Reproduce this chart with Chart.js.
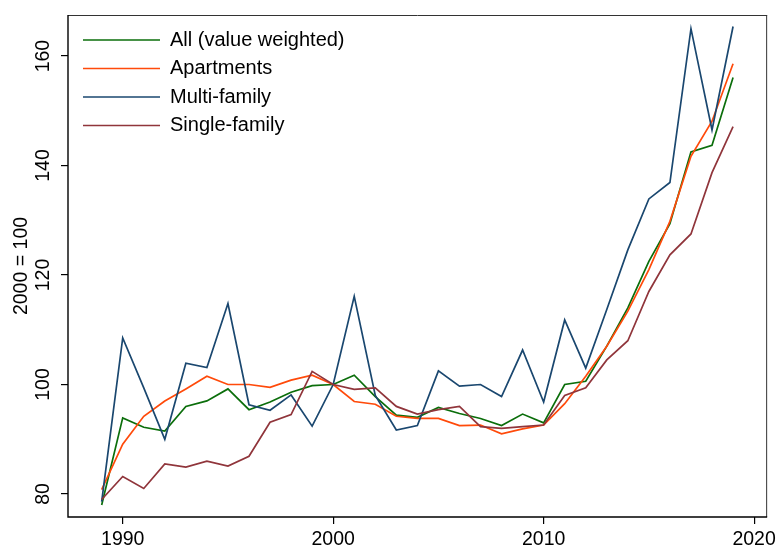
<!DOCTYPE html>
<html>
<head>
<meta charset="utf-8">
<script src="https://cdn.jsdelivr.net/npm/chart.js@4.4.1/dist/chart.umd.min.js"></script>
<style>
  html, body { margin: 0; padding: 0; background: #fff; }
  #wrap { width: 780px; height: 546px; position: relative; }
</style>
</head>
<body>
<div id="wrap"><canvas id="c"></canvas></div>
<script>
const years = [1989,1990,1991,1992,1993,1994,1995,1996,1997,1998,1999,2000,2001,2002,2003,2004,2005,2006,2007,2008,2009,2010,2011,2012,2013,2014,2015,2016,2017,2018,2019];
const allValueWeighted = [78.0,93.9,92.2,91.5,96.0,97.0,99.2,95.4,96.8,98.6,99.8,100,101.7,97.8,94.4,94.0,95.8,94.7,93.8,92.5,94.6,93.0,100.0,100.6,107.0,114.0,122.5,129.4,142.5,143.7,156.1];
const apartments = [80.8,89.1,94.2,97.0,99.2,101.5,100.0,100.0,99.5,100.8,101.7,100,96.9,96.4,94.2,93.8,93.8,92.5,92.6,91.0,91.9,92.6,96.5,101.5,107.0,113.4,121.0,129.8,141.7,148.1,158.6];
const multiFamily = [78.6,108.5,99.4,90.0,103.9,103.1,114.8,96.3,95.3,98.1,92.4,100,116.1,98.0,91.7,92.5,102.5,99.7,100.0,97.8,106.3,96.8,111.8,103.0,113.7,124.6,133.9,136.9,165.0,146.5,165.4];
const singleFamily = [79.0,83.2,81.0,85.5,84.9,86.0,85.1,86.9,93.1,94.5,102.4,100,99.1,99.4,96.0,94.6,95.4,96.0,92.3,92.0,92.3,92.6,98.0,99.4,104.5,108.0,117.0,123.7,127.5,138.7,147.1];
const seriesNames = ['All (value weighted)','Apartments','Multi-family','Single-family'];
const xTicks = [1990,2000,2010,2020];
const yTicks = [80,100,120,140,160];
const yTitle = '2000 = 100';

Chart.defaults.font.family = "'Liberation Sans', Arial, sans-serif";
Chart.defaults.color = '#000';

const colors = ['#0b6e0b','#ff4a0a','#1a476f','#90353b'];
const seriesData = [allValueWeighted, apartments, multiFamily, singleFamily];
const datasets = seriesData.map((vals, i) => ({
  label: seriesNames[i],
  data: years.map((y, j) => ({x: y, y: vals[j]})),
  borderColor: colors[i],
  backgroundColor: colors[i],
  borderWidth: 1.7,
  pointRadius: 0,
  tension: 0,
  order: 4 - i
}));

const framePlugin = {
  id: 'frame',
  afterLayout(chart) {
    const ca = chart.chartArea;
    if (chart.legend) {
      chart.legend.left = ca.left + 6.5;
      chart.legend.top = ca.top + 6.5;
    }
  },
  afterDraw(chart) {
    const {ctx, chartArea: a} = chart;
    ctx.save();
    ctx.strokeStyle = '#333';
    ctx.lineWidth = 1;
    ctx.beginPath();
    ctx.moveTo(a.left, a.top + 0.5);
    ctx.lineTo(a.right, a.top + 0.5);
    ctx.moveTo(a.right - 0.5, a.top);
    ctx.lineTo(a.right - 0.5, a.bottom);
    ctx.stroke();
    ctx.strokeStyle = '#000';
    ctx.lineWidth = 1.4;
    ctx.beginPath();
    ctx.moveTo(a.left, a.top);
    ctx.lineTo(a.left, a.bottom);
    ctx.lineTo(a.right, a.bottom);
    ctx.stroke();
    ctx.restore();
  }
};

new Chart(document.getElementById('c'), {
  type: 'line',
  data: { datasets },
  plugins: [framePlugin],
  options: {
    responsive: true,
    maintainAspectRatio: false,
    animation: false,
    layout: { padding: { top: 15, right: 11, left: 0, bottom: 0 } },
    plugins: {
      tooltip: { enabled: false },
      legend: {
        position: 'chartArea',
        align: 'start',
        labels: {
          usePointStyle: true,
          pointStyle: 'line',
          pointStyleWidth: 77,
          padding: 8.5,
          color: '#000',
          font: { size: 20 },
          sort: (a, b) => a.datasetIndex - b.datasetIndex
        }
      }
    },
    scales: {
      x: {
        type: 'linear',
        min: 1987.4,
        max: 2020.62,
        afterFit: s => { s.height = 29; },
        afterBuildTicks: s => { s.ticks = xTicks.map(v => ({value: v})); },
        grid: { display: true, drawOnChartArea: false, drawTicks: true, tickLength: 7, color: '#000', lineWidth: 1.2 },
        border: { display: false },
        ticks: { padding: 4, color: '#000', font: { size: 19.5 }, maxRotation: 0, autoSkip: false, callback: v => String(v) }
      },
      y: {
        type: 'linear',
        min: 75.8,
        max: 167.5,
        afterFit: s => { s.width = 68; },
        afterBuildTicks: s => { s.ticks = yTicks.map(v => ({value: v})); },
        grid: { display: true, drawOnChartArea: false, drawTicks: true, tickLength: 7, color: '#000', lineWidth: 1.2 },
        border: { display: false },
        title: { display: true, text: yTitle, color: '#000', font: { size: 19.5 }, padding: { top: 10, bottom: 0 } },
        ticks: { minRotation: 90, maxRotation: 90, crossAlign: 'center', padding: 1.5, color: '#000', font: { size: 19.5 }, callback: v => String(v) }
      }
    }
  }
});
</script>
</body>
</html>
